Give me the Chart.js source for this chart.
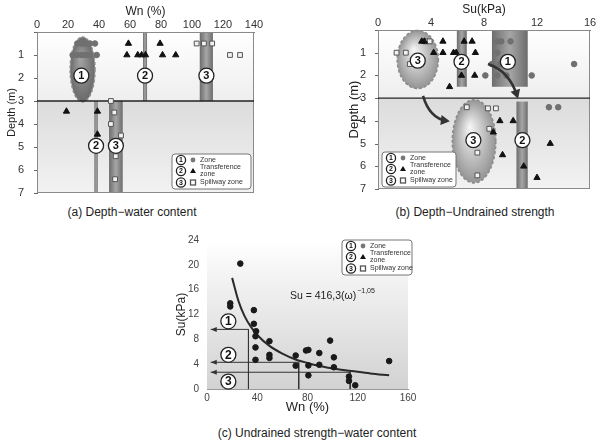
<!DOCTYPE html>
<html>
<head>
<meta charset="utf-8">
<script src="https://cdn.jsdelivr.net/npm/chart.js@4.4.1/dist/chart.umd.min.js"></script>
<style>
  body{margin:0;width:600px;height:442px;background:#fff;position:relative;overflow:hidden;font-family:"Liberation Sans",sans-serif;color:#222}
  canvas{position:absolute}
  .cap{position:absolute;font-size:12px;white-space:nowrap;transform:translateX(-50%)}
</style>
</head>
<body>
<canvas id="chartA" width="290" height="200" style="left:0;top:4px"></canvas>
<canvas id="chartB" width="255" height="195" style="left:345px;top:2px"></canvas>
<canvas id="chartC" width="258" height="183" style="left:172px;top:232px"></canvas>
<div class="cap" style="left:132px;top:205px">(a) Depth−water content</div>
<div class="cap" style="left:475px;top:205px">(b) Depth−Undrained strength</div>
<div class="cap" style="left:317px;top:426px">(c) Undrained strength−water content</div>
<script>
/* Three panels: depth vs Wn, depth vs Su, Su vs Wn.
   Values. */

const SPLIT_DEPTH = 3;

// (a) depth - water content
const aZoneWn    = [26, 29, 31.6, 34.2, 37.4, 23, 26, 28.8, 31.6, 34.2, 38.5];
const aZoneDepth = [0.5, 0.5, 0.5, 0.5, 0.5, 1, 1, 1, 1, 1, 1];
const aTransWn    = [59, 79.4, 58, 65, 67.5, 70, 81, 89.5, 19, 39, 39];
const aTransDepth = [0.5, 0.5, 1, 1, 1, 1, 1, 1, 3.45, 3.45, 4.45];
const aSpillWn    = [103, 107.7, 113, 124.5, 131, 47.7, 49.9, 47.7, 54.2, 50.8, 50.4];
const aSpillDepth = [0.5, 0.5, 0.5, 1, 1, 3, 3.5, 4, 4.5, 5.4, 6.4];
const aBands    = [[68.4, 71, 0, 3], [105, 113.5, 0, 3], [37, 39.2, 3, 7], [46.5, 55.3, 3, 7]];
const aEllipses = [[29.4, 1.63, 8, 1.41]];
const aLabels   = [['1', 28.6, 1.9], ['2', 69.7, 1.9], ['3', 109.3, 1.9], ['2', 38.1, 4.95], ['3', 50.9, 4.95]];

// (b) depth - undrained strength
const bZoneSu    = [9.0, 9.3, 10.0, 9.0, 8.6, 9.2, 14.8, 8.1, 9.0, 9.7, 11.6, 12.9, 13.6];
const bZoneDepth = [0.5, 0.5, 0.5, 1.0, 1.5, 1.5, 1.5, 2, 2, 2, 2, 3.4, 3.4];
const bTransSu    = [3.3, 3.5, 4.9, 6.5, 7.1, 4.2, 4.9, 5.7, 5.9, 7.35, 6.3, 7.3, 5.4, 9.2, 10.2, 8.7, 13.0, 9.4, 11.0, 12.0];
const bTransDepth = [0.5, 0.5, 0.5, 0.5, 0.5, 1, 1, 1, 1, 1, 2, 2, 2.5, 4, 4, 4.5, 5, 5.5, 6, 6.5];
const bSpillSu    = [3.6, 3.9, 1.4, 2.1, 2.4, 6.7, 8.3, 8.9, 8.4, 7.5, 7.5];
const bSpillDepth = [0.5, 0.5, 1, 1, 1.5, 3.4, 3.45, 3.45, 4.35, 5.4, 6.4];
const bBands    = [[5.95, 6.7, 0, 2.5], [8.6, 11.3, 0, 2.5], [10.45, 11.3, 3.15, 7]];
const bEllipses = [[3.0, 1.3, 1.55, 1.28], [7.25, 4.9, 1.64, 1.83]];
const bLabels   = [['3', 3.0, 1.35], ['2', 6.3, 1.4], ['1', 9.8, 1.4], ['3', 7.2, 4.85], ['2', 10.9, 4.85]];
const bArrows   = [[3.4, 2.9, 3.9, 3.9, 5.2, 4.0], [8.3, 1.5, 9.9, 1.8, 10.5, 2.9]];

// (c) undrained strength - water content
const cWn = [26.5, 18.5, 18.5, 37.3, 37.3, 39.1, 38.6, 38.6, 38.6, 49.7, 49.7, 49.7, 70.6, 70.6,
             78.8, 80.7, 80.7, 80.7, 89.4, 89.4, 98, 101, 101, 113, 113, 118, 145];
const cSu = [20.2, 13.8, 13.3, 12.7, 10.5, 9.3, 8.5, 6.7, 4.7, 7.7, 5.5, 5.0, 5.4, 3.75,
             6.2, 6.3, 3.8, 2.2, 5.8, 3.9, 7.8, 5.1, 3.5, 2.0, 1.3, 0.6, 4.5];
const cFitWn = [20, 25, 30, 35, 40, 50, 60, 70, 80, 90, 100, 115, 130, 145];
const cFitSu = [17.9, 14.2, 11.7, 10.0, 8.7, 6.9, 5.7, 4.8, 4.2, 3.7, 3.3, 2.9, 2.5, 2.2];
const cLimitWn = [33, 73, 114];
const cLimitSu = [9.6, 4.3, 2.7];
const cArrowTip = 3;
const cLabels = [['1', 17, 10.9], ['2', 17, 5.5], ['3', 17, 1.2]];

const FONT = '"Liberation Sans", sans-serif';
const pts = (xs, ys) => xs.map((x, i) => ({x, y: ys[i]}));
const pos = (c, x, y) => [c.scales.x.getPixelForValue(x), c.scales.y.getPixelForValue(y)];

function depthBackground(c){
  const {ctx, chartArea: a} = c;
  const ym = c.scales.y.getPixelForValue(SPLIT_DEPTH);
  let g = ctx.createLinearGradient(0, a.top, 0, ym);
  g.addColorStop(0, '#ffffff'); g.addColorStop(1, '#eeeeee');
  ctx.fillStyle = g; ctx.fillRect(a.left, a.top, a.width, ym - a.top);
  g = ctx.createLinearGradient(0, ym, 0, a.bottom);
  g.addColorStop(0, '#dcdcdc'); g.addColorStop(1, '#f2f2f2');
  ctx.fillStyle = g; ctx.fillRect(a.left, ym, a.width, a.bottom - ym);
}

function depthFrame(c){
  const {ctx, chartArea: a} = c;
  const y = c.scales.y;
  const ym = y.getPixelForValue(SPLIT_DEPTH);
  ctx.strokeStyle = '#8a8a8a'; ctx.lineWidth = 1; ctx.setLineDash([]);
  ctx.strokeRect(a.left + 0.5, a.top + 0.5, a.width - 1, a.height - 1);
  // small outward tick marks on the depth axis
  ctx.strokeStyle = '#666';
  ctx.beginPath();
  y.ticks.forEach(t => { const p = Math.round(y.getPixelForValue(t.value)) + 0.5; ctx.moveTo(a.left - 3, p); ctx.lineTo(a.left, p); });
  ctx.stroke();
  ctx.strokeStyle = '#222'; ctx.lineWidth = 1.3;
  ctx.beginPath(); ctx.moveTo(a.left, ym); ctx.lineTo(a.right, ym); ctx.stroke();
}

function drawBands(c, bands){
  const ctx = c.ctx;
  bands.forEach(([x0, x1, d0, d1]) => {
    const [l, t] = pos(c, x0, d0), [r, b] = pos(c, x1, d1);
    const g = ctx.createLinearGradient(l, 0, r, 0);
    g.addColorStop(0, '#6c6c6c'); g.addColorStop(0.5, '#a6a6a6'); g.addColorStop(1, '#6c6c6c');
    ctx.fillStyle = g; ctx.fillRect(l, t, r - l, b - t);
  });
}

function drawEllipses(c, list, inner, outer){
  const ctx = c.ctx;
  list.forEach(([cx, cy, rx, ry]) => {
    const [x, y] = pos(c, cx, cy);
    const w = Math.abs(c.scales.x.getPixelForValue(cx + rx) - x);
    const h = Math.abs(c.scales.y.getPixelForValue(cy + ry) - y);
    ctx.save();
    ctx.translate(x, y); ctx.scale(w, h);
    const g = ctx.createRadialGradient(-0.2, -0.35, 0, 0, 0, 1);
    g.addColorStop(0, inner); g.addColorStop(1, outer);
    ctx.beginPath(); ctx.arc(0, 0, 1, 0, Math.PI * 2);
    ctx.fillStyle = g; ctx.fill();
    ctx.restore();
    ctx.beginPath(); ctx.ellipse(x, y, w, h, 0, 0, Math.PI * 2);
    ctx.setLineDash([3, 2]); ctx.strokeStyle = '#8c8c8c'; ctx.lineWidth = 1.6; ctx.stroke();
    ctx.setLineDash([]);
  });
}

function circled(ctx, x, y, t, r, fs){
  ctx.setLineDash([]);
  ctx.beginPath(); ctx.arc(x, y, r, 0, Math.PI * 2);
  ctx.fillStyle = '#fff'; ctx.fill();
  ctx.lineWidth = 1.3; ctx.strokeStyle = '#222'; ctx.stroke();
  ctx.fillStyle = '#111'; ctx.font = `bold ${fs}px ${FONT}`;
  ctx.textAlign = 'center'; ctx.textBaseline = 'middle';
  ctx.fillText(t, x, y + 0.5);
}

function drawLabels(c, labels, r, fs){
  labels.forEach(([t, x, y]) => { const [px, py] = pos(c, x, y); circled(c.ctx, px, py, t, r, fs); });
}

function legendBox(ctx, x, y, w){
  const h = 35;
  ctx.setLineDash([]);
  ctx.beginPath(); ctx.roundRect(x, y, w, h, 3);
  ctx.fillStyle = '#fff'; ctx.fill();
  ctx.strokeStyle = '#777'; ctx.lineWidth = 1; ctx.stroke();
  const rows = [6, 17, 28.5];
  rows.forEach((ry, i) => circled(ctx, x + 9, y + ry, String(i + 1), 4.6, 7));
  ctx.fillStyle = '#777';
  ctx.beginPath(); ctx.arc(x + 21, y + rows[0], 2.4, 0, Math.PI * 2); ctx.fill();
  ctx.fillStyle = '#111';
  ctx.beginPath(); ctx.moveTo(x + 21, y + rows[1] - 3); ctx.lineTo(x + 24, y + rows[1] + 2); ctx.lineTo(x + 18, y + rows[1] + 2); ctx.closePath(); ctx.fill();
  ctx.fillStyle = '#fff'; ctx.strokeStyle = '#555';
  ctx.fillRect(x + 18.5, y + rows[2] - 2.5, 5, 5); ctx.strokeRect(x + 18.5, y + rows[2] - 2.5, 5, 5);
  ctx.fillStyle = '#333'; ctx.font = `7px ${FONT}`; ctx.textAlign = 'left'; ctx.textBaseline = 'middle';
  ctx.fillText('Zone', x + 28, y + rows[0]);
  ctx.fillText('Transference', x + 28, y + rows[1] - 3.5);
  ctx.fillText('zone', x + 28, y + rows[1] + 3.5);
  ctx.fillText('Spillway zone', x + 28, y + rows[2]);
}

function arrowHead(ctx, x, y, ang, len, wid){
  ctx.beginPath();
  ctx.moveTo(x, y);
  ctx.lineTo(x - len * Math.cos(ang) + wid * Math.sin(ang), y - len * Math.sin(ang) - wid * Math.cos(ang));
  ctx.lineTo(x - len * Math.cos(ang) - wid * Math.sin(ang), y - len * Math.sin(ang) + wid * Math.cos(ang));
  ctx.closePath(); ctx.fill();
}

// tick padding also pads the plot top/bottom in Chart.js, so the label gap comes from tickLength
function depthScales(xTitle, xMax, xStep, yTitleSize, yTitlePad, yWidth, yGap){
  return {
    x: {
      type: 'linear', position: 'top', min: 0, max: xMax,
      ticks: {stepSize: xStep, color: '#333', font: {family: FONT, size: 11}, padding: 0},
      grid: {display: false, drawTicks: false},
      border: {color: '#777'},
      title: {display: true, text: xTitle, color: '#222', font: {family: FONT, size: 12}, padding: {top: 0, bottom: 0}},
      afterFit: s => { s.height = 28; }
    },
    y: {
      type: 'linear', reverse: true, min: 0, max: 7,
      ticks: {stepSize: 1, color: '#333', font: {family: FONT, size: 11}, padding: 0,
              callback: v => v === 0 ? '' : v},
      grid: {display: false, drawTicks: true, tickLength: yGap},
      border: {color: '#777'},
      title: {display: true, text: 'Depth (m)', color: '#222', font: {family: FONT, size: yTitleSize}, padding: {top: yTitlePad, bottom: 0}},
      afterFit: s => { s.width = yWidth; }
    }
  };
}

function depthSets(zx, zy, tx, ty, sx, sy){
  return [
    {label: 'Zone', data: pts(zx, zy), pointStyle: 'circle', pointRadius: 2.8,
     backgroundColor: '#707070', borderColor: '#707070'},
    {label: 'Transference zone', data: pts(tx, ty), pointStyle: 'triangle', pointRadius: 3.6,
     backgroundColor: '#111', borderColor: '#111'},
    {label: 'Spillway zone', data: pts(sx, sy), pointStyle: 'rect', pointRadius: 3.4,
     backgroundColor: '#f2f2f2', borderColor: '#555', borderWidth: 1}
  ];
}

const common = {
  responsive: false, animation: false,
  plugins: {legend: {display: false}, tooltip: {enabled: false}}
};

new Chart(document.getElementById('chartA'), {
  type: 'scatter',
  data: {datasets: depthSets(aZoneWn, aZoneDepth, aTransWn, aTransDepth, aSpillWn, aSpillDepth)},
  options: {...common, layout: {padding: {top: 0, right: 36, bottom: 11, left: 0}},
            scales: depthScales('Wn (%)', 140, 20, 11, 5, 37, 13)},
  plugins: [{
    id: 'decoA',
    beforeDatasetsDraw(c){
      depthBackground(c);
      drawBands(c, aBands);
      drawEllipses(c, aEllipses, '#a4a4a4', '#6a6a6a');
      depthFrame(c);
    },
    afterDatasetsDraw(c){
      drawLabels(c, aLabels, 7.5, 11);
      legendBox(c.ctx, c.chartArea.right - 82, c.chartArea.bottom - 39, 79);
    }
  }]
});

new Chart(document.getElementById('chartB'), {
  type: 'scatter',
  data: {datasets: depthSets(bZoneSu, bZoneDepth, bTransSu, bTransDepth, bSpillSu, bSpillDepth)},
  options: {...common, layout: {padding: {top: 0, right: 10, bottom: 8, left: 0}},
            scales: depthScales('Su(kPa)', 16, 4, 13, 2, 33, 12)},
  plugins: [{
    id: 'decoB',
    beforeDatasetsDraw(c){
      depthBackground(c);
      drawBands(c, bBands);
      drawEllipses(c, bEllipses, '#f7f7f7', '#959595');
      depthFrame(c);
    },
    afterDatasetsDraw(c){
      const ctx = c.ctx;
      drawLabels(c, bLabels, 7.5, 11);
      ctx.strokeStyle = '#333'; ctx.fillStyle = '#333'; ctx.lineWidth = 2.6; ctx.setLineDash([]);
      bArrows.forEach(([x0, y0, qx, qy, x1, y1]) => {
        const [ax, ay] = pos(c, x0, y0), [cx, cy] = pos(c, qx, qy), [bx, by] = pos(c, x1, y1);
        const ang = Math.atan2(by - cy, bx - cx);
        ctx.beginPath(); ctx.moveTo(ax, ay); ctx.quadraticCurveTo(cx, cy, bx, by); ctx.stroke();
        arrowHead(ctx, bx + 3 * Math.cos(ang), by + 3 * Math.sin(ang), ang, 9, 5);
      });
      legendBox(ctx, c.chartArea.left + 4, c.chartArea.bottom - 37, 74);
    }
  }]
});

new Chart(document.getElementById('chartC'), {
  type: 'scatter',
  data: {datasets: [
    {label: 'Su', data: pts(cWn, cSu), pointStyle: 'circle', pointRadius: 2.8,
     backgroundColor: '#1a1a1a', borderColor: '#1a1a1a'},
    {label: 'fit', type: 'line', data: pts(cFitWn, cFitSu), showLine: true, pointRadius: 0,
     borderColor: '#2a2a2a', borderWidth: 2, cubicInterpolationMode: 'monotone', fill: false},
    ...cLimitWn.map((w, i) => ({
      label: 'limit' + (i + 1), type: 'line', showLine: true, pointRadius: 0, tension: 0,
      borderColor: '#333', borderWidth: 1,
      data: [{x: cArrowTip, y: cLimitSu[i]}, {x: w, y: cLimitSu[i]}, {x: w, y: 0}]
    }))
  ]},
  options: {...common, layout: {padding: {top: 8, right: 22, bottom: 0, left: 0}},
    scales: {
      x: {type: 'linear', min: 0, max: 160,
          ticks: {stepSize: 40, color: '#444', font: {family: FONT, size: 10}, padding: 3},
          grid: {display: false, drawTicks: false}, border: {color: '#999'},
          title: {display: true, text: 'Wn (%)', color: '#222', font: {family: FONT, size: 13}, padding: {top: 0, bottom: 0}},
          afterFit: s => { s.height = 26; }},
      y: {type: 'linear', min: 0, max: 24,
          ticks: {stepSize: 4, color: '#444', font: {family: FONT, size: 10}, padding: 0},
          grid: {display: false, drawTicks: true, tickLength: 8}, border: {color: '#999'},
          title: {display: true, text: 'Su(kPa)', color: '#222', font: {family: FONT, size: 12}, padding: {top: 2, bottom: 0}},
          afterFit: s => { s.width = 35; }}
    }},
  plugins: [{
    id: 'decoC',
    beforeDatasetsDraw(c){
      const {ctx, chartArea: a} = c;
      const g = ctx.createLinearGradient(0, a.top, 0, a.bottom);
      g.addColorStop(0, '#ffffff'); g.addColorStop(0.25, '#f3f3f3'); g.addColorStop(1, '#d2d2d2');
      ctx.fillStyle = g; ctx.fillRect(a.left, a.top, a.width, a.height);
    },
    afterDatasetsDraw(c){
      const ctx = c.ctx;
      ctx.fillStyle = '#333';
      cLimitSu.forEach(s => { const [x, y] = pos(c, cArrowTip, s); arrowHead(ctx, x, y, Math.PI, 6, 2.5); });
      drawLabels(c, cLabels, 7.5, 12);
      const [ex, ey] = pos(c, 66, 15);
      ctx.fillStyle = '#222'; ctx.textAlign = 'left'; ctx.textBaseline = 'middle';
      ctx.font = `10.5px ${FONT}`;
      const eq = 'Su = 416,3(ω)';
      ctx.fillText(eq, ex, ey);
      const ew = ctx.measureText(eq).width;
      ctx.font = `7px ${FONT}`;
      ctx.fillText('−1,05', ex + ew + 1, ey - 5);
      legendBox(ctx, c.chartArea.right - 66, c.chartArea.top, 70);
    }
  }]
});
</script>
</body>
</html>
